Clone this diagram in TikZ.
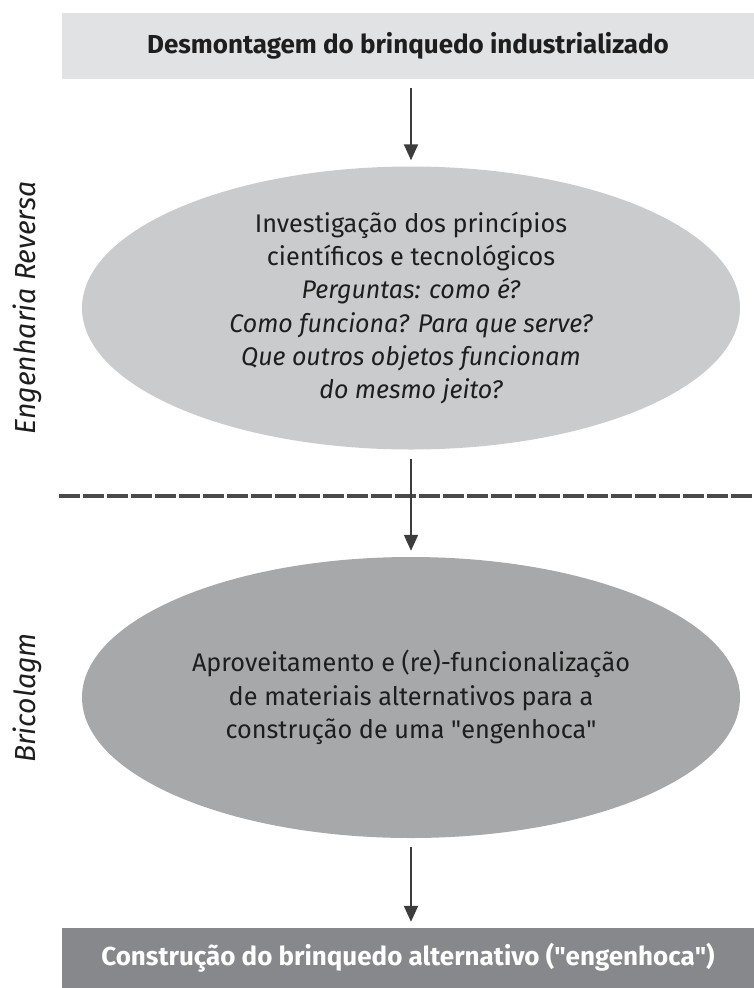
\documentclass[tikz,border=0pt]{standalone}
\usepackage{fontspec}
\setmainfont{Fira Sans}[UprightFeatures={FakeStretch=0.99}, ItalicFeatures={FakeStretch=0.98}, BoldFeatures={FakeStretch=1.0}]
\usetikzlibrary{arrows.meta,shapes.geometric}
\definecolor{boxlight}{HTML}{E1E2E4}
\definecolor{ellA}{HTML}{CACBCD}
\definecolor{ellB}{HTML}{A7A8AA}
\definecolor{boxdark}{HTML}{87888B}
\definecolor{ink}{HTML}{1E1E1E}
\definecolor{arrowc}{HTML}{3C3C3C}
\definecolor{dashc}{HTML}{4A4A4A}
\tikzset{
  bandbox/.style={rectangle, minimum width=692pt, inner sep=0pt, font=\fontsize{26}{30}\selectfont\bfseries},
  bubble/.style={ellipse, minimum width=658pt, inner sep=0pt, align=center, text=ink,
     font=\fontsize{25.5}{33.3}\selectfont},
  sidelabel/.style={rotate=90, anchor=base, text=ink, font=\fontsize{29}{30}\selectfont\itshape},
  flow/.style={draw=arrowc, line width=2pt, -{Triangle[length=16pt,width=14pt]}, shorten <=9pt, shorten >=6pt},
  separator/.style={draw=dashc, line width=4.5pt, dash pattern=on 20.5pt off 3.5pt}
}
\begin{document}
\begin{tikzpicture}[x=1pt,y=-1pt]
\useasboundingbox (0,0) rectangle (754,988);
\node[bandbox, fill=boxlight, minimum height=66pt, text=ink] (top) at (408,46) {Desmontagem do brinquedo industrializado};
\node[bubble, fill=ellA, minimum height=283pt] (inv) at (411,308)
  {Investigação dos princípios\\ científicos e tecnológicos\\ \itshape Perguntas: como é?\\ \itshape Como funciona? Para que serve?\\ \itshape Que outros objetos funcionam\\ \itshape do mesmo jeito?};
\node[bubble, fill=ellB, minimum height=281pt] (apr) at (411,697.5)
  {Aproveitamento e (re)-funcionalização\\ de materiais alternativos para a\\ construção de uma \textquotedbl engenhoca\textquotedbl};
\node[bandbox, fill=boxdark, minimum height=60pt, text=white] (bot) at (408,958) {Construção do brinquedo alternativo (\textquotedbl engenhoca\textquotedbl)};
\node[sidelabel] (er) at (35,308) {Engenharia Reversa};
\node[sidelabel] (bc) at (35,698) {Bricolagm};
\coordinate (sepL) at (59,496);
\coordinate (sepR) at (754,496);
\draw[separator] (sepL) -- (sepR);
\draw[flow] (inv.north |- top.south) -- (inv.north);
\draw[flow] (inv.south) -- (apr.north);
\draw[flow] (apr.south) -- (apr.south |- bot.north);
\end{tikzpicture}
\end{document}
